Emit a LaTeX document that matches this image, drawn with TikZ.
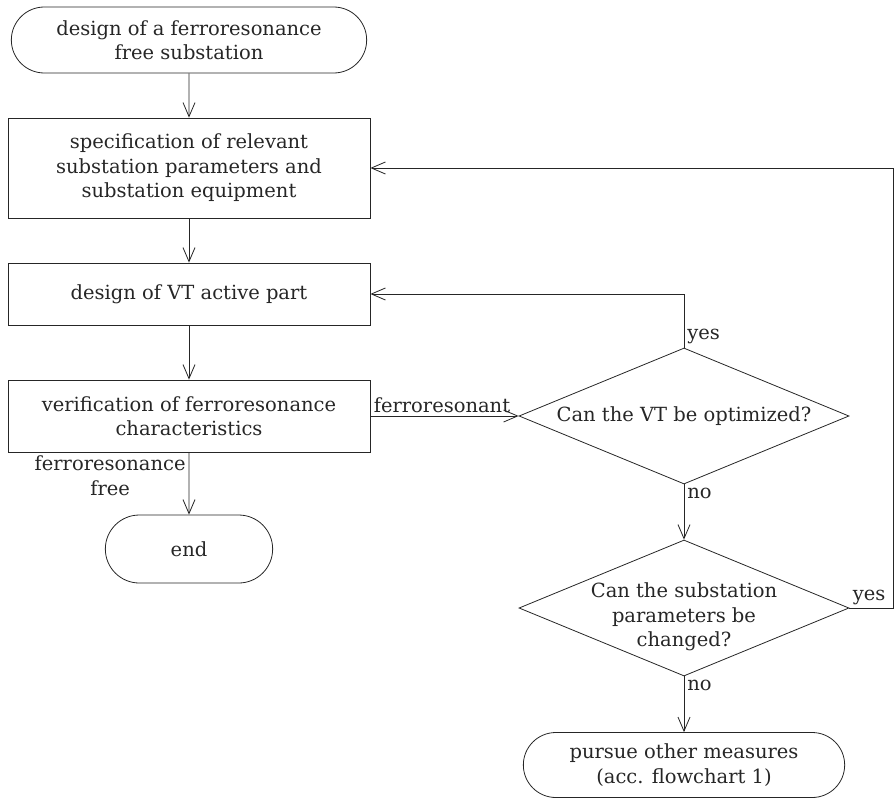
\documentclass[tikz,border=0pt]{standalone}
\usepackage{fontspec}
\setmainfont{DejaVu Serif}
\usetikzlibrary{shapes.geometric,shapes.misc,arrows.meta}

\begin{document}
\begin{tikzpicture}[x=1pt,y=-1pt,font=\fontsize{19.5}{24.5}\selectfont,color=black!85]
\tikzstyle{terminal}=[rounded rectangle, draw, line width=0.8pt, minimum width=362pt, minimum height=66pt, align=center]
\tikzstyle{process}=[rectangle, draw, line width=0.8pt, minimum width=362pt, align=center]
\tikzstyle{decision}=[diamond, draw, line width=0.8pt, minimum width=330pt, minimum height=136pt, inner sep=0pt]
\tikzstyle{connect}=[-{Straight Barb[length=14pt,width=12pt]}, line width=0.8pt]
\tikzstyle{tag}=[inner sep=3pt]
\useasboundingbox (0,0) rectangle (894,798);

\node[terminal] (start) at (189,40) {design of a ferroresonance\\free substation};
\node[process, minimum height=100pt] (spec) at (189,168) {specification of relevant\\substation parameters and\\substation equipment};
\node[process, minimum height=62pt] (vtpart) at (189,294) {design of VT active part};
\node[process, minimum height=72pt] (verify) at (189,416) {verification of ferroresonance\\characteristics};
\node[terminal, minimum width=174pt, minimum height=68pt] (end) at (189,549) {end};

\node[decision] (vtopt) at (684,416) [label=center:{Can the VT be optimized?}]{};
\node[decision] (subst) at (684,608) [label={[align=center,yshift=-9pt]center:{Can the substation\\parameters be\\changed?}}]{};
\node[terminal, minimum width=328pt, minimum height=65pt] (other) at (684,765) {pursue other measures\\(acc. flowchart 1)};
\coordinate (rail) at (893,608);

\path[connect]
	(start) edge (spec)
	(spec) edge (vtpart)
	(vtpart) edge (verify);
\draw[connect] (verify) -- node[tag, pos=0, anchor=north east, align=center]{ferroresonance\\free} (end);
\draw[connect] (verify) -- node[tag, pos=0, anchor=south west]{ferroresonant} (vtopt);
\draw[connect] (vtopt.north) |- node[tag, pos=0, anchor=south west]{yes} (vtpart.east);
\draw[connect] (vtopt.south) -- node[tag, pos=0, anchor=north west]{no} (subst.north);
\draw[connect] (subst.south) -- node[tag, pos=0, anchor=north west]{no} (other.north);
\draw[connect] (subst.east) -- node[tag, pos=0, anchor=south west]{yes} (rail) |- (spec.east);

\end{tikzpicture}
\end{document}
